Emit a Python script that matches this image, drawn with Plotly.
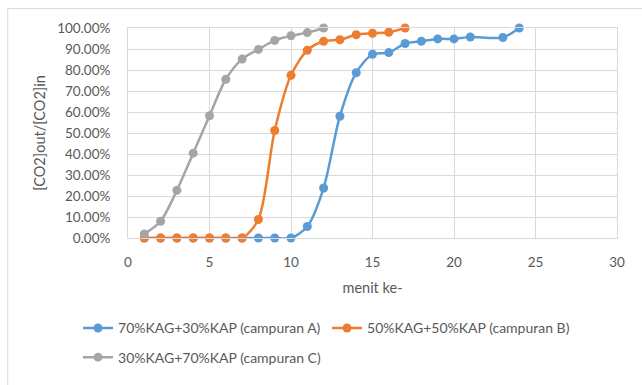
import plotly.graph_objects as go

# Minutes (menit ke-) and CO2 ratio [CO2]out/[CO2]in for each mixture
menit_a = [1, 2, 3, 4, 5, 6, 7, 8, 9, 10, 11, 12, 13, 14, 15, 16, 17, 18, 19, 20, 21, 23, 24]
rasio_a = [0.0, 0.0, 0.0, 0.0, 0.0, 0.0, 0.0, 0.0, 0.0, 0.0, 0.055, 0.238, 0.580, 0.787,
           0.875, 0.883, 0.926, 0.937, 0.948, 0.948, 0.957, 0.955, 1.0]

menit_b = [1, 2, 3, 4, 5, 6, 7, 8, 9, 10, 11, 12, 13, 14, 15, 16, 17]
rasio_b = [0.0, 0.0, 0.0, 0.0, 0.0, 0.0, 0.0, 0.088, 0.512, 0.775, 0.894, 0.937, 0.944,
           0.968, 0.975, 0.980, 1.0]

menit_c = [1, 2, 3, 4, 5, 6, 7, 8, 9, 10, 11, 12]
rasio_c = [0.019, 0.080, 0.227, 0.404, 0.582, 0.756, 0.852, 0.898, 0.941, 0.963, 0.978, 1.0]

nama = ["70%KAG+30%KAP (campuran A)", "50%KAG+50%KAP (campuran B)", "30%KAG+70%KAP (campuran C)"]
warna = ["#5B9BD5", "#ED7D31", "#A5A5A5"]
grup_legenda = ["legend", "legend", "legend2"]

FONT = "Lato"
TEKS = "#595959"
GRID = "#D9D9D9"

fig = go.Figure()
for xs, ys, n, w, lg in zip([menit_a, menit_b, menit_c], [rasio_a, rasio_b, rasio_c],
                            nama, warna, grup_legenda):
    fig.add_trace(go.Scatter(
        x=xs, y=ys, name=n, mode="lines+markers",
        line=dict(color=w, width=2.5, shape="spline", smoothing=0.8),
        marker=dict(color=w, size=9),
        cliponaxis=False, legend=lg,
    ))

# outer chart frame
fig.add_shape(type="rect", xref="paper", yref="paper",
              x0=-0.246, x1=1.2, y0=-0.8, y1=1.0926,
              line=dict(color=GRID, width=1), fillcolor="rgba(0,0,0,0)", layer="below")

legend_font = dict(family=FONT, size=14, color=TEKS)

fig.update_layout(
    width=642, height=385,
    margin=dict(l=128, r=25, t=28, b=141),
    paper_bgcolor="white", plot_bgcolor="white",
    font=dict(family=FONT, size=13.5, color=TEKS),
    showlegend=True,
    legend=dict(orientation="h", x=-0.1022, xanchor="left", y=-0.4306, yanchor="middle",
                font=legend_font, traceorder="normal", entrywidth=204),
    legend2=dict(orientation="h", x=-0.1022, xanchor="left", y=-0.5694, yanchor="middle",
                 font=legend_font, traceorder="normal", entrywidth=204),
    xaxis=dict(range=[0, 30], dtick=5, tick0=0, showgrid=True, gridcolor=GRID, gridwidth=1,
               zeroline=False, showline=True, linecolor=GRID, mirror=True,
               ticks="", ticklabelstandoff=12,
               title=dict(text="menit ke-", standoff=13, font=dict(size=14.5, color=TEKS))),
    yaxis=dict(range=[0, 1], dtick=0.1, tick0=0, tickformat=".2%", showgrid=True,
               gridcolor=GRID, gridwidth=1, zeroline=False, showline=True, linecolor=GRID,
               mirror=True, ticks="", ticklabelstandoff=14,
               title=dict(text="[CO2]out/[CO2]in", standoff=8, font=dict(size=14.5, color=TEKS))),
)

fig.write_html("out.html")
